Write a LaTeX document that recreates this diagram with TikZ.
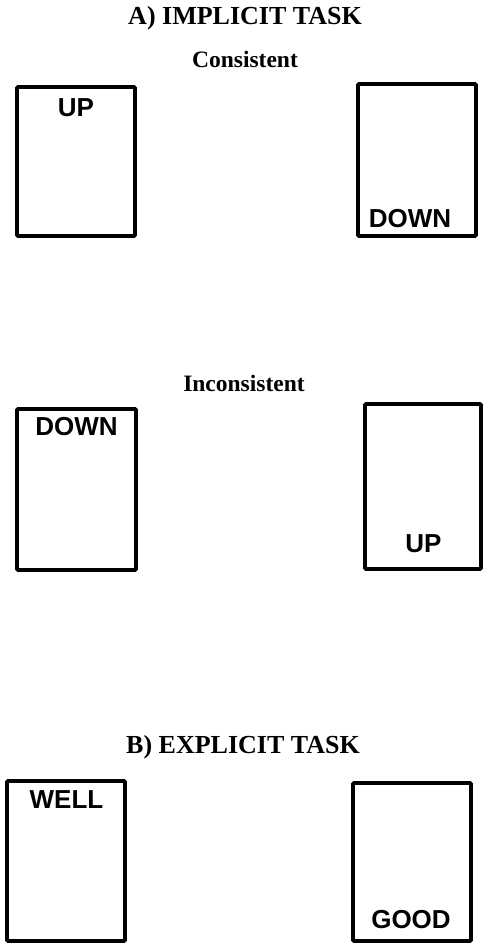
\documentclass[tikz,border=0pt]{standalone}
\usepackage{fontspec}
\setmainfont{Liberation Serif}
\newfontfamily\cardfont{Liberation Sans}
\usepackage{tikz}

\begin{document}
\begin{tikzpicture}[x=1pt,y=-1pt,
    card/.style={draw,line width=3.6pt,rounding=1pt,inner sep=0pt},
    rounding/.style={rounded corners=#1},
    word/.style={inner sep=0pt,font=\cardfont\bfseries\fontsize{26}{30}\selectfont},
    heading/.style={inner sep=0pt,font=\bfseries\fontsize{26}{30}\selectfont},
    subheading/.style={inner sep=0pt,font=\bfseries\fontsize{23.5}{28}\selectfont}]
        \useasboundingbox (0,0) rectangle (484,946);
        % A) implicit task
        \node[heading] (implicit) at (245,18) {A) IMPLICIT TASK};
        \node[subheading] (consistent) at (245,59) {Consistent};
        \node[card,minimum width=118pt,minimum height=149pt] (c1) at (76,161.5) {};
        \node[card,minimum width=118pt,minimum height=152pt] (c2) at (417,160) {};
        \node[word] (up1) at (76,107.5) {UP};
        \node[word] (down1) at (410,219) {DOWN};
        \node[subheading] (inconsistent) at (244,383) {Inconsistent};
        \node[card,minimum width=119pt,minimum height=161pt] (c3) at (76.5,489.5) {};
        \node[card,minimum width=116pt,minimum height=165pt] (c4) at (423,486.5) {};
        \node[word] (down2) at (76.5,427) {DOWN};
        \node[word] (up2) at (423.5,543.5) {UP};
        % B) explicit task
        \node[heading] (explicit) at (243,747) {B) EXPLICIT TASK};
        \node[card,minimum width=118pt,minimum height=160pt] (c5) at (66,861) {};
        \node[card,minimum width=118pt,minimum height=158pt] (c6) at (412,862) {};
        \node[word] (well) at (66.5,800) {WELL};
        \node[word] (good) at (411,919.5) {GOOD};
    \end{tikzpicture}
\end{document}
